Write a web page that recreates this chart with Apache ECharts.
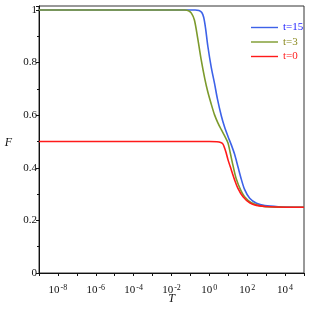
<!DOCTYPE html>
<html><head><meta charset="utf-8">
<script src="https://cdn.jsdelivr.net/npm/echarts@6/dist/echarts.min.js"></script>
<style>html,body{margin:0;padding:0;background:#fff}#c{width:309px;height:309px}</style>
</head><body><div id="c"></div>
<script>
// x values are log10(T)
const redLogT   = [-9, 0, 0.4, 0.6, 0.72, 0.8, 0.89, 0.98, 1.16, 1.33, 1.51, 1.78, 2.13, 2.49, 2.93, 3.5, 5];
const redF      = [0.5, 0.5, 0.499, 0.496, 0.49, 0.476, 0.456, 0.432, 0.392, 0.355, 0.322, 0.29, 0.267, 0.257, 0.253, 0.251, 0.25];
const greenLogT = [-9, -1.3, -1.1, -0.95, -0.79, -0.61, -0.43, -0.24, -0.08, 0.1, 0.27, 0.45, 0.63, 0.8, 0.98, 1.1, 1.25, 1.42, 1.65, 1.86, 2.22, 2.66, 3.28, 5];
const greenF    = [1, 1, 0.997, 0.988, 0.962, 0.89, 0.81, 0.738, 0.688, 0.642, 0.602, 0.571, 0.545, 0.522, 0.495, 0.458, 0.408, 0.358, 0.316, 0.29, 0.267, 0.256, 0.251, 0.25];
const blueLogT  = [-9, -0.75, -0.55, -0.4, -0.3, -0.2, -0.08, 0.1, 0.27, 0.42, 0.63, 0.8, 0.98, 1.16, 1.33, 1.51, 1.69, 1.86, 2.13, 2.49, 2.93, 3.64, 5];
const blueF     = [1, 1, 0.998, 0.99, 0.972, 0.93, 0.862, 0.782, 0.722, 0.664, 0.598, 0.556, 0.52, 0.487, 0.452, 0.404, 0.356, 0.318, 0.284, 0.265, 0.256, 0.252, 0.25];
const seriesNames = ['t=15', 't=3', 't=0'];
const yTicks = [0, 0.2, 0.4, 0.6, 0.8, 1];
const xLabelExps = [-8, -6, -4, -2, 0, 2, 4];

const colors = {'t=15': '#3d62e8', 't=3': '#7c9a2c', 't=0': '#ff1a1a'};
const textColors = {'t=15': '#1a1aff', 't=3': '#8a8a20', 't=0': '#ff2020'};
const zip = (a, b) => a.map((v, i) => [v, b[i]]);
const serif = 'Liberation Serif';

const chart = echarts.init(document.getElementById('c'), null, {renderer: 'canvas'});
chart.setOption({
  animation: false,
  grid: {left: 39, right: 5, top: 6, bottom: 36, show: true, borderColor: '#333', borderWidth: 1, backgroundColor: 'transparent', containLabel: false, outerBoundsMode: 'none'},
  legend: {
    orient: 'vertical', left: 246, top: 17, itemWidth: 27, itemHeight: 10, itemGap: 3.5,
    icon: 'path://M0,4.3 L27,4.3 L27,5.7 L0,5.7 Z',
    textStyle: {fontFamily: serif, fontSize: 11},
    data: seriesNames.map(n => ({name: n, itemStyle: {color: colors[n]}, textStyle: {color: textColors[n], fontFamily: serif, fontSize: 11}}))
  },
  xAxis: {
    type: 'value', min: -9, max: 5, interval: 1,
    name: 'T', nameLocation: 'middle', nameGap: 20, nameMoveOverlap: false,
    nameTextStyle: {fontFamily: serif, fontStyle: 'italic', fontSize: 12, color: '#111'},
    axisLine: {onZero: false, lineStyle: {color: '#111', width: 1}},
    axisTick: {show: true, length: 3, lineStyle: {color: '#111'}},
    splitLine: {show: false},
    axisLabel: {
      margin: 11, color: '#111',
      formatter: v => xLabelExps.indexOf(v) >= 0 ? '{b|10}{s|' + (v < 0 ? '-' + Math.abs(v) : v) + '}' : '',
      rich: {
        b: {fontFamily: serif, fontSize: 11, color: '#111', verticalAlign: 'bottom', lineHeight: 12},
        s: {fontFamily: serif, fontSize: 8, color: '#111', verticalAlign: 'top', lineHeight: 8, padding: [0, 0, 0, 1]}
      }
    }
  },
  yAxis: {
    type: 'value', min: 0, max: 1.015, interval: 0.2,
    name: 'F', nameLocation: 'middle', nameRotate: 0, nameGap: 27, nameMoveOverlap: false,
    nameTextStyle: {fontFamily: serif, fontStyle: 'italic', fontSize: 12, color: '#111', verticalAlign: 'top', lineHeight: 6},
    axisLine: {show: true, onZero: false, lineStyle: {color: '#111', width: 1}},
    axisTick: {show: true, length: 3, lineStyle: {color: '#111'}},
    minorTick: {show: true, splitNumber: 2, length: 2, lineStyle: {color: '#111'}},
    splitLine: {show: false},
    axisLabel: {
      margin: 2, color: '#111', fontFamily: serif, fontSize: 11,
      formatter: v => {
        const m = yTicks.find(t => Math.abs(t - v) < 1e-6);
        return m === undefined ? '' : String(m);
      }
    }
  },
  series: [
    {name: 't=15', type: 'line', data: zip(blueLogT, blueF)},
    {name: 't=3', type: 'line', data: zip(greenLogT, greenF)},
    {name: 't=0', type: 'line', data: zip(redLogT, redF)}
  ].map(s => Object.assign(s, {
    showSymbol: false, symbol: 'none', smooth: 0.3,
    lineStyle: {width: 1.6, color: colors[s.name]}, itemStyle: {color: colors[s.name]}
  }))
});
</script></body></html>
